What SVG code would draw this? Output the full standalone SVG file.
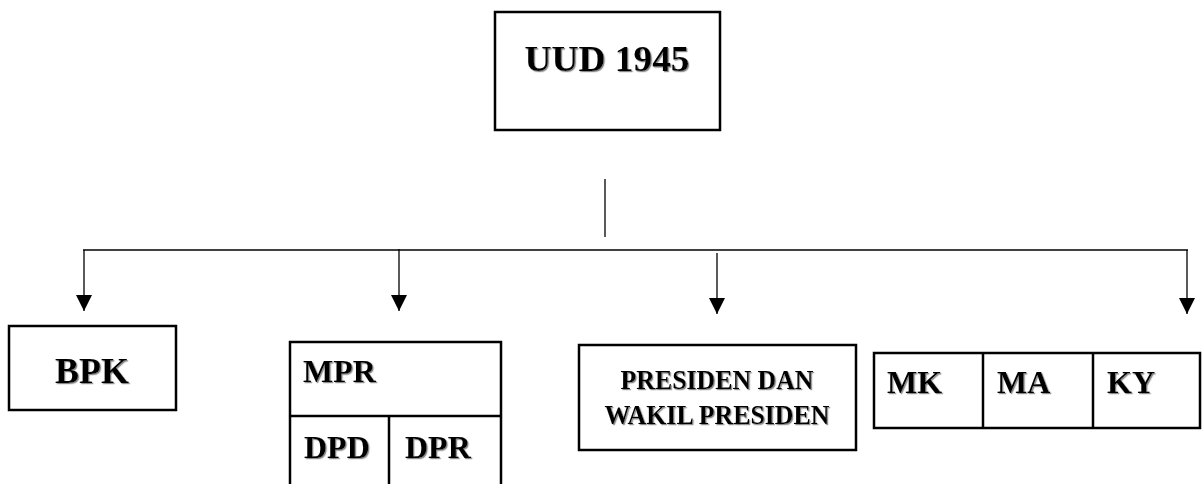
<svg xmlns="http://www.w3.org/2000/svg" width="1204" height="484" viewBox="0 0 1204 484">
<style>
.box{fill:#fff;stroke:#000;stroke-width:2.5}
.div{stroke:#000;stroke-width:2.5;fill:none}
.con{stroke:#000;stroke-width:1.3;fill:none}
.t{font-family:"Liberation Serif","DejaVu Serif",serif;font-weight:bold;fill:#000;filter:url(#sh)}
</style>
<defs>
<marker id="ah" viewBox="0 0 10 10" refX="10" refY="5" markerWidth="16" markerHeight="16" markerUnits="userSpaceOnUse" orient="auto">
<path d="M0,0 L10,5 L0,10 z" fill="#000"/>
</marker>
<filter id="sh" x="-10%" y="-10%" width="130%" height="140%">
<feDropShadow dx="1.2" dy="1.2" stdDeviation="0.3" flood-color="#888" flood-opacity="1"/>
</filter>
</defs>
<g id="connectors">
<line class="con" x1="605" y1="179" x2="605" y2="237"/>
<line class="con" x1="83" y1="250" x2="1188" y2="250"/>
<line class="con" x1="84" y1="250" x2="84" y2="311" marker-end="url(#ah)"/>
<line class="con" x1="399" y1="249" x2="399" y2="311" marker-end="url(#ah)"/>
<line class="con" x1="717" y1="253" x2="717" y2="314" marker-end="url(#ah)"/>
<line class="con" x1="1187" y1="250" x2="1187" y2="314" marker-end="url(#ah)"/>
</g>
<g id="uud">
<rect class="box" x="495" y="12" width="225" height="118"/>
<text class="t" x="607" y="71" font-size="35" text-anchor="middle" textLength="165" lengthAdjust="spacingAndGlyphs">UUD 1945</text>
</g>
<g id="bpk">
<rect class="box" x="9" y="326" width="167" height="84"/>
<text class="t" x="92" y="383" font-size="36" text-anchor="middle">BPK</text>
</g>
<g id="mpr">
<path class="div" d="M290,486 L290,342 L501,342 L501,486 M290,416 L501,416 M389,416 L389,486"/>
<text class="t" x="303" y="382" font-size="32">MPR</text>
<text class="t" x="304" y="458" font-size="32">DPD</text>
<text class="t" x="405" y="458" font-size="32">DPR</text>
</g>
<g id="presiden">
<rect class="box" x="579" y="345" width="277" height="105"/>
<text class="t" x="717" y="389" font-size="28" text-anchor="middle" textLength="193" lengthAdjust="spacingAndGlyphs">PRESIDEN DAN</text>
<text class="t" x="717" y="424" font-size="28" text-anchor="middle" textLength="225" lengthAdjust="spacingAndGlyphs">WAKIL PRESIDEN</text>
</g>
<g id="yudikatif">
<rect class="box" x="874" y="353" width="326" height="75"/>
<line class="div" x1="983" y1="353" x2="983" y2="428"/>
<line class="div" x1="1093" y1="353" x2="1093" y2="428"/>
<text class="t" x="887" y="393" font-size="32">MK</text>
<text class="t" x="997" y="393" font-size="32">MA</text>
<text class="t" x="1107" y="393" font-size="32">KY</text>
</g>
</svg>
